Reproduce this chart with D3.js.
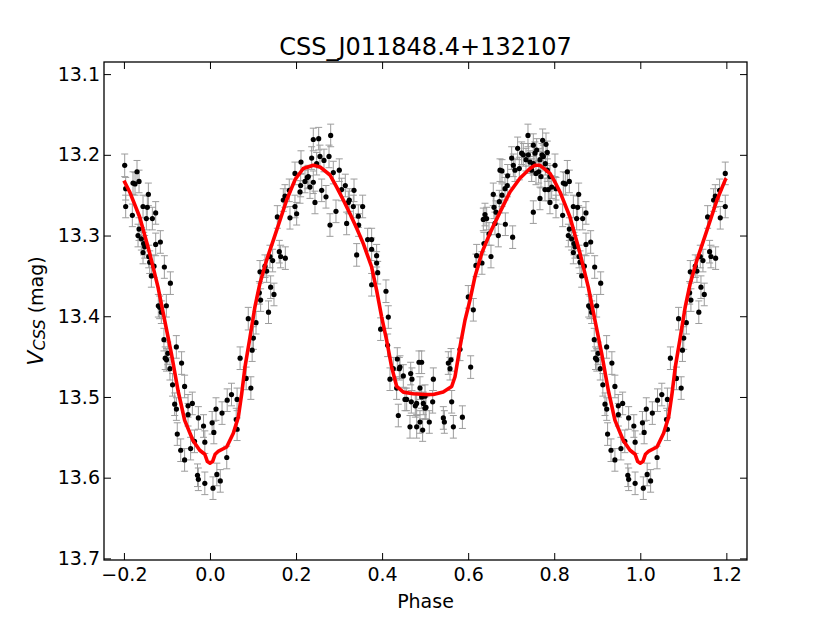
<!DOCTYPE html>
<html>
<head>
<meta charset="utf-8">
<script src="https://cdn.jsdelivr.net/npm/d3@7"></script>
<style>
  body { margin: 0; background: #fff; }
  text { font-family: "DejaVu Sans", sans-serif; }
</style>
</head>
<body>
<svg id="chart" width="830" height="623"></svg>
<script>
// folded light curve, phase 0..1 (points near the ends are repeated outside)
const phases = [
  0.005, 0.009, 0.014, 0.016, 0.007, 0.024, 0.028, 0.039, 0.040, 0.050,
  0.063, 0.063, 0.061, 0.070, 0.084, 0.095, 0.098, 0.101, 0.089, 0.107, 0.136,
  0.1162, 0.1147, 0.1177, 0.1410, 0.1487, 0.1278, 0.1317, 0.1394, 0.1456, 0.1611,
  0.1642, 0.1751, 0.1565, 0.1704, 0.1859, 0.1975, 0.2014, 0.1743, 0.1843, 0.1975,
  0.2092, 0.2107, 0.2115, 0.2208, 0.2262, 0.2324, 0.2285,
  0.2401, 0.2526, 0.2805, 0.2363, 0.2479, 0.2649, 0.2766, 0.2866, 0.3005, 0.2401,
  0.2596, 0.2696, 0.2440, 0.2789, 0.2928, 0.3060, 0.3145, 0.3238, 0.3215, 0.3347,
  0.3331, 0.3447, 0.3548, 0.3176, 0.3455, 0.3409, 0.3664, 0.3757, 0.3757, 0.3873,
  0.3873, 0.3897, 0.3757, 0.4090, 0.4144, 0.3966, 0.4129, 0.4353, 0.4400, 0.4183,
  0.4260, 0.4493, 0.4664, 0.4694, 0.4377, 0.4571, 0.4679, 0.4772, 0.4803, 0.4648,
  0.4803, 0.2556, 0.4416, 0.4532, 0.4338, 0.4857,
  0.4919, 0.4880, 0.4919, 0.4958, 0.4997, 0.4880, 0.4942, 0.5097, 0.5175, 0.5191,
  0.5423, 0.5447, 0.5539, 0.5578, 0.5602, 0.5617, 0.5656, 0.5866, 0.6058, 0.5811,
  0.6003, 0.6120, 0.6181, 0.6197, 0.6321, 0.6367, 0.6530, 0.6484, 0.6352, 0.6391,
  0.6430, 0.6623, 0.6701, 0.6600, 0.6647, 0.6584, 0.6724, 0.6786, 0.6856, 0.6740,
  0.6786, 0.6918, 0.6864, 0.7034, 0.6910, 0.7011, 0.7050, 0.7088, 0.7150, 0.7189,
  0.7243, 0.7282, 0.7344, 0.7398, 0.7390, 0.7437, 0.7476, 0.5020, 0.4997,
  0.7514, 0.7553, 0.7592, 0.7731, 0.7809, 0.7839, 0.7716, 0.7747, 0.7669, 0.7514,
  0.7576, 0.7638, 0.7692, 0.7793, 0.7839, 0.7901, 0.8018, 0.7941, 0.7785, 0.7863,
  0.7669, 0.7514, 0.7901, 0.8041, 0.8041, 0.8211, 0.8258, 0.8304, 0.8351, 0.8196,
  0.8444, 0.8544, 0.8568, 0.8521, 0.8661, 0.8738, 0.8351, 0.8328, 0.8405, 0.8459,
  0.8482, 0.8444, 0.8576, 0.8599, 0.8738, 0.8847, 0.8638, 0.8699, 0.8800, 0.8831,
  0.8870, 0.8940, 0.9080, 0.8986, 0.9218,
  0.893, 0.896, 0.899, 0.902, 0.907, 0.913, 0.918, 0.922, 0.924, 0.934,
  0.941, 0.949, 0.949, 0.959, 0.955, 0.964, 0.941, 0.932, 0.973, 0.985,
  0.988, 0.971, 0.973, 0.988
];
const mags = [
  13.532, 13.544, 13.515, 13.596, 13.613, 13.604, 13.520, 13.575, 13.504, 13.497,
  13.503, 13.540, 13.528, 13.452, 13.477, 13.489, 13.442, 13.427, 13.403, 13.408, 13.395,
  13.345, 13.371, 13.380, 13.364, 13.373, 13.338, 13.344, 13.326, 13.331, 13.320,
  13.326, 13.328, 13.277, 13.256, 13.278, 13.264, 13.273, 13.251, 13.244, 13.223,
  13.246, 13.238, 13.209, 13.233, 13.228, 13.240, 13.227,
  13.181, 13.180, 13.176, 13.204, 13.211, 13.207, 13.202, 13.222, 13.219, 13.234,
  13.244, 13.252, 13.259, 13.287, 13.270, 13.243, 13.238, 13.256, 13.259, 13.244,
  13.264, 13.276, 13.264, 13.285, 13.287, 13.324, 13.305, 13.305, 13.317, 13.325,
  13.334, 13.346, 13.361, 13.369, 13.401, 13.416, 13.436, 13.453, 13.465, 13.478,
  13.465, 13.474, 13.471, 13.478, 13.523, 13.503, 13.506, 13.511, 13.508, 13.537,
  13.537, 13.202, 13.463, 13.503, 13.489, 13.457,
  13.457, 13.489, 13.500, 13.508, 13.514, 13.531, 13.541, 13.531, 13.506, 13.478,
  13.526, 13.531, 13.458, 13.465, 13.454, 13.506, 13.537, 13.525, 13.463, 13.441,
  13.376, 13.392, 13.337, 13.325, 13.334, 13.310, 13.326, 13.298, 13.280, 13.274,
  13.279, 13.285, 13.300, 13.265, 13.271, 13.249, 13.258, 13.250, 13.242, 13.219,
  13.220, 13.226, 13.286, 13.302, 13.238, 13.204, 13.213, 13.219, 13.192, 13.217,
  13.198, 13.200, 13.206, 13.200, 13.176, 13.209, 13.219, 13.513, 13.499,
  13.188, 13.198, 13.194, 13.182, 13.187, 13.197, 13.200, 13.202, 13.206, 13.211,
  13.223, 13.221, 13.227, 13.211, 13.219, 13.227, 13.213, 13.240, 13.243, 13.243,
  13.254, 13.271, 13.259, 13.264, 13.242, 13.235, 13.236, 13.221, 13.233, 13.275,
  13.264, 13.265, 13.249, 13.279, 13.279, 13.272, 13.292, 13.300, 13.304, 13.310,
  13.314, 13.321, 13.326, 13.333, 13.311, 13.308, 13.350, 13.338, 13.387, 13.389,
  13.395, 13.339, 13.359, 13.387, 13.438,
  13.429, 13.452, 13.454, 13.446, 13.465, 13.485, 13.509, 13.515, 13.546, 13.458,
  13.487, 13.511, 13.522, 13.508, 13.564, 13.555, 13.578, 13.566, 13.526, 13.536,
  13.556, 13.597, 13.602, 13.607
];
const magErr = 0.014;

// fitted model curve, phase 0..1
const fitPhase = [
  0, 0.006, 0.012, 0.02, 0.0388, 0.0542, 0.0658, 0.0737, 0.0813, 0.093,
  0.1046, 0.1162, 0.1318, 0.1471, 0.1627, 0.1782, 0.1975, 0.2, 0.2168, 0.2401,
  0.2556, 0.2789, 0.2944, 0.3098, 0.3254, 0.3409, 0.3563, 0.3757, 0.3873, 0.399,
  0.4106, 0.4222, 0.4339, 0.4493, 0.4725, 0.4997, 0.519, 0.542, 0.5617, 0.5694,
  0.581, 0.5926, 0.6042, 0.6158, 0.6314, 0.6507, 0.674, 0.6972, 0.7204, 0.7437,
  0.7553, 0.7669, 0.7901, 0.8, 0.8134, 0.8366, 0.8599, 0.8792, 0.8947, 0.9102,
  0.9257, 0.9412, 0.9605, 0.9761, 0.988, 0.994, 1.0
];
const fitMag = [
  13.582, 13.580, 13.571, 13.567, 13.562, 13.545, 13.525, 13.496, 13.463, 13.426,
  13.388, 13.359, 13.330, 13.306, 13.281, 13.256, 13.231, 13.229, 13.217, 13.213,
  13.215, 13.225, 13.240, 13.256, 13.273, 13.291, 13.310, 13.339, 13.368, 13.401,
  13.430, 13.463, 13.487, 13.494, 13.496, 13.497, 13.497, 13.494, 13.487, 13.475,
  13.438, 13.405, 13.380, 13.351, 13.322, 13.297, 13.271, 13.246, 13.229, 13.217,
  13.213, 13.213, 13.223, 13.232, 13.246, 13.277, 13.322, 13.364, 13.405, 13.446,
  13.492, 13.529, 13.554, 13.566, 13.571, 13.580, 13.582
];

const xTicks = [-0.2, 0.0, 0.2, 0.4, 0.6, 0.8, 1.0, 1.2];
const yTicks = [13.1, 13.2, 13.3, 13.4, 13.5, 13.6, 13.7];
const title = "CSS_J011848.4+132107";

// repeat the ends of the cycle so the plot runs -0.2 .. 1.2
function fold(ps, ms) {
  const out = [];
  ps.forEach((p, i) => {
    out.push([p, ms[i]]);
    if (p >= 0.8) out.push([p - 1, ms[i]]);
    if (p <= 0.2) out.push([p + 1, ms[i]]);
  });
  return out;
}

const mLeft = 104, mRight = 747, mTop = 62, mBottom = 560;
const svg = d3.select("#chart");

const x = d3.scaleLinear().domain([-0.2463, 1.248]).range([mLeft, mRight]);
const y = d3.scaleLinear().domain([13.085, 13.702]).range([mTop, mBottom]);

const pts = fold(phases, mags);
const fit = fold(fitPhase, fitMag).sort((a, b) => a[0] - b[0]);

// error bars
const eb = svg.append("g").attr("stroke", "#8c8c8c").attr("stroke-width", 1).attr("opacity", 0.85);
eb.selectAll("line.v").data(pts).join("line").attr("class", "v")
  .attr("x1", d => x(d[0])).attr("x2", d => x(d[0]))
  .attr("y1", d => y(d[1] - magErr)).attr("y2", d => y(d[1] + magErr));
eb.selectAll("line.t").data(pts).join("line").attr("class", "t")
  .attr("x1", d => x(d[0]) - 3.5).attr("x2", d => x(d[0]) + 3.5)
  .attr("y1", d => y(d[1] - magErr)).attr("y2", d => y(d[1] - magErr));
eb.selectAll("line.b").data(pts).join("line").attr("class", "b")
  .attr("x1", d => x(d[0]) - 3.5).attr("x2", d => x(d[0]) + 3.5)
  .attr("y1", d => y(d[1] + magErr)).attr("y2", d => y(d[1] + magErr));

svg.append("g").selectAll("circle").data(pts).join("circle")
  .attr("cx", d => x(d[0])).attr("cy", d => y(d[1]))
  .attr("r", 2.6).attr("fill", "#000");

svg.append("path").datum(fit)
  .attr("fill", "none").attr("stroke", "#ff0000").attr("stroke-width", 3.6)
  .attr("stroke-linejoin", "round")
  .attr("d", d3.line().x(d => x(d[0])).y(d => y(d[1])));

// axes, ticks pointing inward on all four sides
const fmt = d3.format(".1f");
const xb = svg.append("g").attr("transform", `translate(0,${mBottom})`)
  .call(d3.axisBottom(x).tickValues(xTicks).tickFormat(fmt).tickSize(-7).tickPadding(8));
const xt = svg.append("g").attr("transform", `translate(0,${mTop})`)
  .call(d3.axisTop(x).tickValues(xTicks).tickFormat("").tickSize(-7));
const yl = svg.append("g").attr("transform", `translate(${mLeft},0)`)
  .call(d3.axisLeft(y).tickValues(yTicks).tickFormat(fmt).tickSize(-7).tickPadding(4));
const yr = svg.append("g").attr("transform", `translate(${mRight},0)`)
  .call(d3.axisRight(y).tickValues(yTicks).tickFormat("").tickSize(-7));

[xb, xt, yl, yr].forEach(g => {
  g.select(".domain").remove();
  g.selectAll(".tick line").attr("stroke", "#000").attr("stroke-width", 1);
  g.selectAll(".tick text").attr("fill", "#000").style("font-size", "19px")
    .style("font-family", "'DejaVu Sans', sans-serif");
});

svg.append("rect").attr("x", mLeft).attr("y", mTop)
  .attr("width", mRight - mLeft).attr("height", mBottom - mTop)
  .attr("fill", "none").attr("stroke", "#000").attr("stroke-width", 1.3);

svg.append("text").attr("x", (mLeft + mRight) / 2).attr("y", 55)
  .attr("text-anchor", "middle").style("font-size", "24px").text(title);

svg.append("text").attr("x", (mLeft + mRight) / 2).attr("y", 608)
  .attr("text-anchor", "middle").style("font-size", "19px").text("Phase");

// V_CSS (mag), math part in oblique
const ylab = svg.append("text")
  .attr("transform", "translate(43,311) rotate(-90)")
  .attr("text-anchor", "middle").style("font-size", "19px");
ylab.append("tspan").style("font-style", "italic").style("font-size", "22px").text("V");
ylab.append("tspan").style("font-style", "italic").style("font-size", "16px")
  .attr("dy", 1.5).text("CSS");
ylab.append("tspan").attr("dy", -1.5).text(" (mag)");
</script>
</body>
</html>
